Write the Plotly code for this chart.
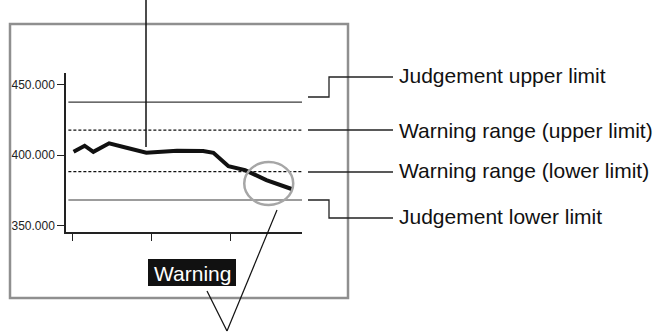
"""Trend chart with judgement and warning limits (annotated)."""

import plotly.graph_objects as go

# --- data ---
x_vals = [0.2, 1.6, 2.7, 4.7, 6.9, 9.4, 13.3, 16.6, 17.9, 19.8, 21.9, 24.6, 27.8]
y_vals = [402.3, 406.6, 402.3, 408.3, 405.2, 401.6, 403.0, 402.8, 401.6, 392.1, 389.3, 382.2, 375.9]

judgement_upper = 437.6
warning_upper = 417.7
warning_lower = 388.3
judgement_lower = 368.1

y_tickvals = [350, 400, 450]
y_ticktext = ["350.000", "400.000", "450.000"]
x_tickvals = [0, 10, 20]

limit_labels = [
    "Judgement upper limit",
    "Warning range (upper limit)",
    "Warning range (lower limit)",
    "Judgement lower limit",
]
warning_text = "Warning"

W, H = 665, 332
FONT = "Liberation Sans, Arial, sans-serif"


def px(x):
    return x / W


def py(y):
    return 1 - y / H


fig = go.Figure()

fig.add_trace(go.Scatter(
    x=x_vals, y=y_vals, mode="lines",
    line=dict(color="#111111", width=4),
    hoverinfo="skip", showlegend=False,
))

shapes = []

# limit lines, in data units
for val, dash, color in [
    (judgement_upper, "solid", "#3a3a3a"),
    (warning_upper, "3px,2px", "#111111"),
    (warning_lower, "3px,2px", "#111111"),
    (judgement_lower, "solid", "#3a3a3a"),
]:
    shapes.append(dict(
        type="line", xref="x domain", yref="y",
        x0=0.01, x1=1, y0=val, y1=val,
        line=dict(color=color, width=1.2, dash=dash), layer="below",
    ))

# outer frame
shapes.append(dict(
    type="rect", xref="paper", yref="paper",
    x0=px(10), x1=px(348), y0=py(298), y1=py(24),
    line=dict(color="#8f8f8f", width=2.5),
))

# highlight ellipse round the falling tail
shapes.append(dict(
    type="circle", xref="x", yref="y",
    x0=21.8, x1=28.0, y0=364.6, y1=395.0,
    line=dict(color="#a6a6a6", width=2.5),
))

# pointer from the top
shapes.append(dict(
    type="line", xref="paper", yref="paper",
    x0=px(146), x1=px(146), y0=py(0), y1=py(147),
    line=dict(color="#111111", width=1.5),
))

# warning box
shapes.append(dict(
    type="rect", xref="paper", yref="paper",
    x0=px(148), x1=px(236), y0=py(286), y1=py(259),
    line=dict(width=0), fillcolor="#111111",
))

# pointers below
for (xa, ya) in [(207, 291), (277, 210)]:
    shapes.append(dict(
        type="line", xref="paper", yref="paper",
        x0=px(xa), y0=py(ya), x1=px(227), y1=py(331),
        line=dict(color="#111111", width=1.2),
    ))

# connectors on the right
connectors = [
    [(308, 97), (329, 97), (329, 77), (393, 77)],
    [(308, 130), (393, 130)],
    [(308, 172), (393, 172)],
    [(308, 200), (329, 200), (329, 218), (393, 218)],
]
for pts in connectors:
    path = "M " + " L ".join(f"{px(a):.5f},{py(b):.5f}" for a, b in pts)
    shapes.append(dict(
        type="path", xref="paper", yref="paper", path=path,
        line=dict(color="#222222", width=1.3),
    ))

annotations = []
for label, ly in zip(limit_labels, [76, 130, 170, 216]):
    annotations.append(dict(
        x=px(397), y=py(ly), xref="paper", yref="paper",
        text=label, showarrow=False, xanchor="left", yanchor="middle",
        font=dict(family=FONT, size=21, color="#111111"),
    ))

annotations.append(dict(
    x=px(192), y=py(273), xref="paper", yref="paper",
    text=warning_text, showarrow=False, xanchor="center", yanchor="middle",
    font=dict(family=FONT, size=21, color="#ffffff"),
))

fig.update_layout(
    width=W, height=H,
    margin=dict(l=0, r=0, t=0, b=0),
    paper_bgcolor="white", plot_bgcolor="white",
    showlegend=False,
    shapes=shapes,
    annotations=annotations,
    xaxis=dict(
        domain=[px(66), px(302)],
        range=[-0.76, 29.11],
        showgrid=False, zeroline=False,
        showline=True, linecolor="#222222", linewidth=1.5,
        tickvals=x_tickvals, ticktext=["", "", ""],
        ticks="outside", ticklen=7, tickcolor="#222222", tickwidth=1.2,
    ),
    yaxis=dict(
        domain=[py(232), py(73)],
        range=[345.4, 458.2],
        showgrid=False, zeroline=False,
        showline=True, linecolor="#222222", linewidth=1.5,
        tickvals=y_tickvals, ticktext=y_ticktext,
        ticks="outside", ticklen=7, tickcolor="#222222", tickwidth=1.2,
        tickfont=dict(family=FONT, size=12, color="#222222"),
    ),
)

# drop the page's default body margin so the figure sits at the window origin
fig.write_html(
    "out.html",
    config={"displayModeBar": False},
    post_script="document.body.style.margin='0';",
)
